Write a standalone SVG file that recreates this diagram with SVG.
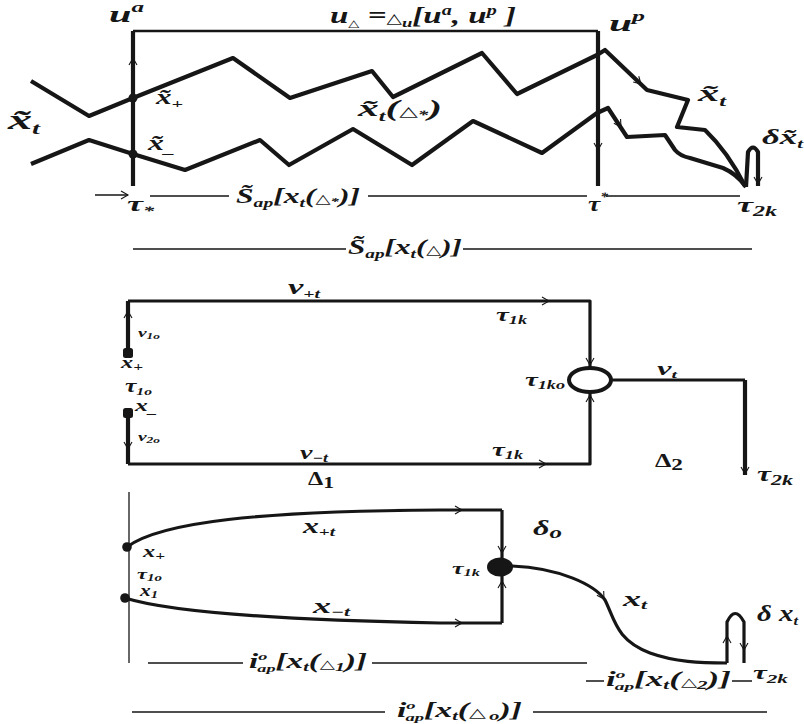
<svg xmlns="http://www.w3.org/2000/svg" xmlns:xlink="http://www.w3.org/1999/xlink" width="804" height="724" viewBox="0 0 804 724">
<style>
.t{font-family:"Liberation Serif","DejaVu Serif",serif;font-style:italic;font-weight:bold;fill:#161616}
.n{font-style:normal}
.ln{fill:none;stroke:#161616;stroke-linejoin:round;stroke-linecap:butt}
.w1{stroke-width:1.3}
.w2{stroke-width:2.5}
.w3{stroke-width:3.2}
.w4{stroke-width:4.2}
.dot{fill:#161616}
</style>
<defs>
<path id="ah" d="M-7,-4 L0,0 L-7,4" fill="none" stroke="#161616" stroke-width="1.1"/>
</defs>
<rect width="804" height="724" fill="#fff"/>

<!-- ================= TOP PANEL ================= -->
<g id="connectors-top">
  <path class="ln w2" d="M133,31 H598"/>
  <path class="ln w4" d="M133,31 V186"/>
  <path class="ln w4" d="M598,31 V186"/>
  <path class="ln w4" d="M31,81 L89,116 L133,98 L233,58 L290,98 L372,71 L393,97 L482,53 L517,94 L597,55 L605,50 L647,90 L688,100 L677,127 L705,130 Q728,152 745,186"/>
  <path class="ln w4" d="M31,164 L89,140 L133,154 L185,170 L260,140 L289,165 L353,129 L412,165 L473,121 L542,153 L597,113 L608,108 L627,137 L665,135 L675,150 Q680,156 690,158 L723,168 Q737,174 746,187"/>
  <path class="ln w4" d="M746,187 L748,152 Q753,143 758,152 L758,186"/>
  <use xlink:href="#ah" transform="translate(133,58) rotate(-90)"/>
  <use xlink:href="#ah" transform="translate(598,150) rotate(90)"/>
  <use xlink:href="#ah" transform="translate(641,84) rotate(44)"/>
  <use xlink:href="#ah" transform="translate(621,127) rotate(57)"/>
  <use xlink:href="#ah" transform="translate(758,184) rotate(90)"/>
  <path class="ln w1" d="M95,195 H128"/>
  <use xlink:href="#ah" transform="translate(128,195)"/>
  <path class="ln w1" d="M150,196 H229 M368,196 H587 M606,196 H740"/>
  <path class="ln w1" d="M133,249 H346 M463,249 H752"/>
</g>
<g id="top-nodes">
  <g id="dot-xplus"><circle class="dot" cx="133" cy="98" r="4.5"/></g>
  <g id="dot-xminus"><circle class="dot" cx="133" cy="154" r="4.5"/></g>
  <g id="lbl-ua"><text class="t" x="109" y="22" font-size="24" textLength="35" lengthAdjust="spacingAndGlyphs">u<tspan dy="-10" font-size="15">a</tspan></text></g>
  <g id="lbl-udelta"><text class="t" x="330" y="23" font-size="23" textLength="186" lengthAdjust="spacingAndGlyphs">u<tspan dy="4" font-size="10" class="n">△</tspan><tspan dy="-4"> =</tspan><tspan font-size="14" class="n">△</tspan><tspan dy="4" font-size="13">u</tspan><tspan dy="-4">[u</tspan><tspan dy="-8" font-size="14">a</tspan><tspan dy="8">, u</tspan><tspan dy="-8" font-size="14">p</tspan><tspan dy="8"> ]</tspan></text></g>
  <g id="lbl-up"><text class="t" x="609" y="31" font-size="24" textLength="36" lengthAdjust="spacingAndGlyphs">u<tspan dy="-10" font-size="15">p</tspan></text></g>
  <g id="lbl-xt-left"><text class="t" x="8" y="129" font-size="27" textLength="32" lengthAdjust="spacingAndGlyphs">x̃<tspan dy="5" font-size="16">t</tspan></text></g>
  <g id="lbl-xplus"><text class="t" x="156" y="104" font-size="20" textLength="27" lengthAdjust="spacingAndGlyphs">x̃<tspan dy="4" font-size="13">+</tspan></text></g>
  <g id="lbl-xminus"><text class="t" x="148" y="150" font-size="20" textLength="27" lengthAdjust="spacingAndGlyphs">x̃<tspan dy="3" font-size="14">_</tspan></text></g>
  <g id="lbl-xt-mid"><text class="t" x="358" y="116" font-size="24" textLength="84" lengthAdjust="spacingAndGlyphs">x̃<tspan dy="5" font-size="14">t</tspan><tspan dy="-5">(</tspan><tspan font-size="14" class="n">△</tspan><tspan dy="3" font-size="12">*</tspan><tspan dy="-3">)</tspan></text></g>
  <g id="lbl-xt-right"><text class="t" x="698" y="101" font-size="24" textLength="28" lengthAdjust="spacingAndGlyphs">x̃<tspan dy="5" font-size="14">t</tspan></text></g>
  <g id="lbl-dxt"><text class="t" x="762" y="144" font-size="22" textLength="41" lengthAdjust="spacingAndGlyphs">δx̃<tspan dy="4" font-size="13">t</tspan></text></g>
  <g id="lbl-taustar-low"><text class="t" x="127" y="211" font-size="21" textLength="27" lengthAdjust="spacingAndGlyphs">τ<tspan dy="4" font-size="13">*</tspan></text></g>
  <g id="lbl-sap1"><text class="t" x="236" y="203" font-size="21" textLength="124" lengthAdjust="spacingAndGlyphs">S̃<tspan dy="4" font-size="13">ap</tspan><tspan dy="-4">[x</tspan><tspan dy="4" font-size="13">t</tspan><tspan dy="-4">(</tspan><tspan font-size="13" class="n">△</tspan><tspan dy="2" font-size="11">*</tspan><tspan dy="-2">)]</tspan></text></g>
  <g id="lbl-taustar-up"><text class="t" x="588" y="211" font-size="21" textLength="20" lengthAdjust="spacingAndGlyphs">τ<tspan dy="-10" font-size="12">*</tspan></text></g>
  <g id="lbl-tau2k-top"><text class="t" x="737" y="212" font-size="21" textLength="40" lengthAdjust="spacingAndGlyphs">τ<tspan dy="4" font-size="14">2k</tspan></text></g>
  <g id="lbl-sap2"><text class="t" x="348" y="254" font-size="21" textLength="114" lengthAdjust="spacingAndGlyphs">S̃<tspan dy="4" font-size="13">ap</tspan><tspan dy="-4">[x</tspan><tspan dy="4" font-size="13">t</tspan><tspan dy="-4">(</tspan><tspan font-size="13" class="n">△</tspan><tspan>)]</tspan></text></g>
</g>

<!-- ================= MIDDLE PANEL ================= -->
<g id="connectors-mid">
  <path class="ln w4" d="M128,353 V301"/>
  <path class="ln w3" d="M128,301 H590 V368"/>
  <path class="ln w4" d="M128,413 V464"/>
  <path class="ln w3" d="M128,464 H590 V392"/>
  <path class="ln w3" d="M611,380 H745"/>
  <path class="ln w4" d="M745,380 V475"/>
  <use xlink:href="#ah" transform="translate(128,311) rotate(-90)"/>
  <use xlink:href="#ah" transform="translate(128,449) rotate(90)"/>
  <use xlink:href="#ah" transform="translate(549,301)"/>
  <use xlink:href="#ah" transform="translate(546,464)"/>
  <use xlink:href="#ah" transform="translate(590,365) rotate(90)"/>
  <use xlink:href="#ah" transform="translate(590,395) rotate(-90)"/>
  <use xlink:href="#ah" transform="translate(745,474) rotate(90)"/>
</g>
<g id="mid-nodes">
  <g id="node-xplus-mid"><rect class="dot" x="123" y="348" width="10" height="10" rx="2.5"/></g>
  <g id="node-xminus-mid"><rect class="dot" x="123" y="408" width="10" height="10" rx="2.5"/></g>
  <g id="node-tau1ko"><ellipse cx="590" cy="380" rx="21" ry="12" fill="#fff" stroke="#161616" stroke-width="4"/></g>
  <g id="lbl-vpt"><text class="t" x="288" y="294" font-size="21" textLength="32" lengthAdjust="spacingAndGlyphs">v<tspan dy="4" font-size="12">+t</tspan></text></g>
  <g id="lbl-v1o"><text class="t" x="138" y="337" font-size="13" textLength="22" lengthAdjust="spacingAndGlyphs">v<tspan dy="2" font-size="9">1o</tspan></text></g>
  <g id="lbl-xp-mid"><text class="t" x="121" y="368" font-size="17" textLength="22" lengthAdjust="spacingAndGlyphs">x<tspan dy="3" font-size="12">+</tspan></text></g>
  <g id="lbl-tau1o-mid"><text class="t" x="125" y="392" font-size="18" textLength="27" lengthAdjust="spacingAndGlyphs">τ<tspan dy="3" font-size="11">1o</tspan></text></g>
  <g id="lbl-xm-mid"><text class="t" x="135" y="411" font-size="17" textLength="22" lengthAdjust="spacingAndGlyphs">x<tspan dy="2" font-size="12">_</tspan></text></g>
  <g id="lbl-v2o"><text class="t" x="138" y="441" font-size="13" textLength="22" lengthAdjust="spacingAndGlyphs">v<tspan dy="2" font-size="9">2o</tspan></text></g>
  <g id="lbl-vmt"><text class="t" x="300" y="459" font-size="19" textLength="28" lengthAdjust="spacingAndGlyphs">v<tspan dy="3" font-size="12">−t</tspan></text></g>
  <g id="lbl-delta1"><text class="t n" x="308" y="485" font-size="19" textLength="26" lengthAdjust="spacingAndGlyphs">Δ<tspan dy="3" font-size="17">1</tspan></text></g>
  <g id="lbl-tau1k-a"><text class="t" x="496" y="321" font-size="19" textLength="31" lengthAdjust="spacingAndGlyphs">τ<tspan dy="3" font-size="12">1k</tspan></text></g>
  <g id="lbl-tau1k-b"><text class="t" x="492" y="456" font-size="19" textLength="31" lengthAdjust="spacingAndGlyphs">τ<tspan dy="3" font-size="12">1k</tspan></text></g>
  <g id="lbl-tau1ko"><text class="t" x="525" y="386" font-size="19" textLength="40" lengthAdjust="spacingAndGlyphs">τ<tspan dy="3" font-size="12">1ko</tspan></text></g>
  <g id="lbl-vt"><text class="t" x="657" y="375" font-size="18" textLength="20" lengthAdjust="spacingAndGlyphs">v<tspan dy="3" font-size="11">t</tspan></text></g>
  <g id="lbl-delta2"><text class="t n" x="655" y="467" font-size="19" textLength="28" lengthAdjust="spacingAndGlyphs">Δ<tspan dy="3" font-size="17">2</tspan></text></g>
  <g id="lbl-tau2k-mid"><text class="t" x="757" y="481" font-size="20" textLength="36" lengthAdjust="spacingAndGlyphs">τ<tspan dy="4" font-size="14">2k</tspan></text></g>
</g>

<!-- ================= BOTTOM PANEL ================= -->
<g id="connectors-bot">
  <path class="ln w1" d="M129,492 V663"/>
  <path class="ln w3" d="M127,547 C160,522 260,511 440,510 L502,510"/>
  <path class="ln w3" d="M125,598 C170,612 280,620 440,623 L502,623"/>
  <path class="ln w3" d="M502,510 V623"/>
  <path class="ln w3" d="M512,566 C560,568 595,585 605,600 C615,620 616,640 650,653 C675,662 700,663 727,663"/>
  <path class="ln w3" d="M727,663 V622 Q735,605 744,622 V663"/>
  <use xlink:href="#ah" transform="translate(462,510)"/>
  <use xlink:href="#ah" transform="translate(462,623)"/>
  <use xlink:href="#ah" transform="translate(502,553) rotate(90)"/>
  <use xlink:href="#ah" transform="translate(502,581) rotate(-90)"/>
  <use xlink:href="#ah" transform="translate(604,599) rotate(58)"/>
  <use xlink:href="#ah" transform="translate(727,636) rotate(-90)"/>
  <use xlink:href="#ah" transform="translate(744,650) rotate(90)"/>
  <path class="ln w1" d="M148,663 H243 M372,663 H587"/>
  <path class="ln w1" d="M586,681 H604 M732,681 H752"/>
  <path class="ln w1" d="M132,712 H385 M533,712 H767"/>
</g>
<g id="bot-nodes">
  <g id="dot-xplus-bot"><circle class="dot" cx="127" cy="547" r="4.8"/></g>
  <g id="dot-x1-bot"><circle class="dot" cx="125" cy="598" r="4.8"/></g>
  <g id="node-tau1k"><ellipse class="dot" cx="500" cy="567" rx="13" ry="9.5"/></g>
  <g id="lbl-xpt"><text class="t" x="303" y="533" font-size="20" textLength="32" lengthAdjust="spacingAndGlyphs">x<tspan dy="3" font-size="12">+t</tspan></text></g>
  <g id="lbl-xp-bot"><text class="t" x="143" y="557" font-size="17" textLength="22" lengthAdjust="spacingAndGlyphs">x<tspan dy="3" font-size="12">+</tspan></text></g>
  <g id="lbl-tau1o-bot"><text class="t" x="137" y="579" font-size="15" textLength="25" lengthAdjust="spacingAndGlyphs">τ<tspan dy="2" font-size="10">1o</tspan></text></g>
  <g id="lbl-x1"><text class="t" x="140" y="596" font-size="16" textLength="18" lengthAdjust="spacingAndGlyphs">x<tspan dy="2" font-size="11">1</tspan></text></g>
  <g id="lbl-xmt"><text class="t" x="313" y="613" font-size="20" textLength="37" lengthAdjust="spacingAndGlyphs">x<tspan dy="3" font-size="12">−t</tspan></text></g>
  <g id="lbl-tau1k-bot"><text class="t" x="452" y="574" font-size="16" textLength="28" lengthAdjust="spacingAndGlyphs">τ<tspan dy="2" font-size="10">1k</tspan></text></g>
  <g id="lbl-delta-o"><text class="t" x="533" y="535" font-size="22" textLength="29" lengthAdjust="spacingAndGlyphs">δ<tspan dy="3" font-size="17">o</tspan></text></g>
  <g id="lbl-xt-bot"><text class="t" x="623" y="606" font-size="20" textLength="24" lengthAdjust="spacingAndGlyphs">x<tspan dy="3" font-size="12">t</tspan></text></g>
  <g id="lbl-dxt-bot"><text class="t" x="757" y="621" font-size="23" textLength="41" lengthAdjust="spacingAndGlyphs">δ x<tspan dy="4" font-size="13">t</tspan></text></g>
  <g id="lbl-tau2k-bot"><text class="t" x="753" y="679" font-size="19" textLength="35" lengthAdjust="spacingAndGlyphs">τ<tspan dy="4" font-size="13">2k</tspan></text></g>
  <g id="lbl-iap1"><text class="t" x="249" y="668" font-size="20" textLength="118" lengthAdjust="spacingAndGlyphs">i<tspan dy="-8" font-size="11">o</tspan><tspan dx="-6" dy="12" font-size="11">ap</tspan><tspan dy="-4">[x</tspan><tspan dy="3" font-size="12">t</tspan><tspan dy="-3">(</tspan><tspan font-size="12" class="n">△</tspan><tspan dy="3" font-size="12">1</tspan><tspan dy="-3">)]</tspan></text></g>
  <g id="lbl-iap2"><text class="t" x="606" y="686" font-size="20" textLength="125" lengthAdjust="spacingAndGlyphs">i<tspan dy="-8" font-size="11">o</tspan><tspan dx="-6" dy="12" font-size="11">ap</tspan><tspan dy="-4">[x</tspan><tspan dy="3" font-size="12">t</tspan><tspan dy="-3">(</tspan><tspan font-size="12" class="n">△</tspan><tspan dy="3" font-size="12">2</tspan><tspan dy="-3">)]</tspan></text></g>
  <g id="lbl-iapo"><text class="t" x="397" y="717" font-size="20" textLength="125" lengthAdjust="spacingAndGlyphs">i<tspan dy="-8" font-size="11">o</tspan><tspan dx="-6" dy="12" font-size="11">ap</tspan><tspan dy="-4">[x</tspan><tspan dy="3" font-size="12">t</tspan><tspan dy="-3">(</tspan><tspan font-size="13" class="n">△</tspan><tspan dx="2" dy="3" font-size="12">o</tspan><tspan dy="-3">)]</tspan></text></g>
</g>
</svg>
